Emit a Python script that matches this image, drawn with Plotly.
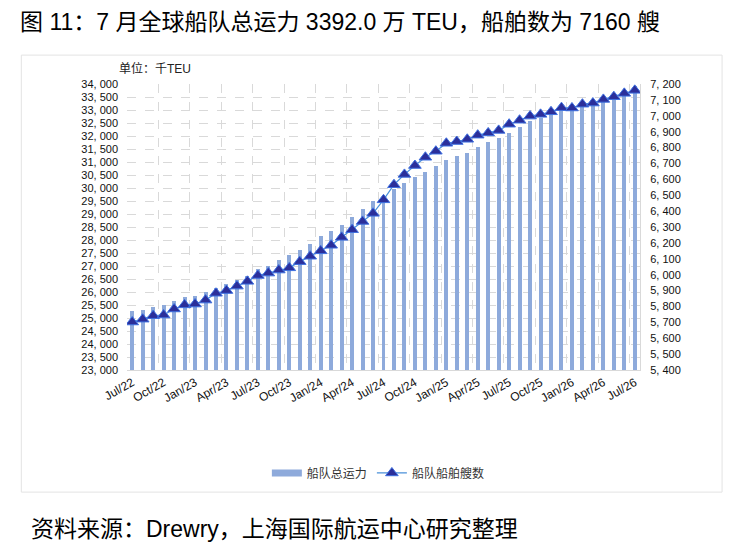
import plotly.graph_objects as go

# meses jul/22 - jul/26
meses = []
for a in range(22, 27):
    for m in ["Jan", "Feb", "Mar", "Apr", "May", "Jun", "Jul", "Aug", "Sep", "Oct", "Nov", "Dec"]:
        meses.append(f"{m}/{a}")
meses = meses[meses.index("Jul/22"):meses.index("Jul/26") + 1]

# capacidad total de la flota (miles de TEU)
capacidad = [25280, 25300, 25420, 25500, 25650, 25800, 25835, 25990, 26150, 26300,
             26460, 26620, 26880, 27010, 27220, 27430, 27610, 27860, 28140, 28350,
             28560, 28880, 29180, 29510, 29740, 29960, 30190, 30440, 30610, 30860,
             31080, 31240, 31340, 31580, 31760, 31935, 32130, 32350, 32560, 32700,
             32840, 32970, 33100, 33230, 33360, 33500, 33640, 33780, 33920]

# numero de buques
buques = [5702, 5720, 5742, 5746, 5784, 5810, 5815, 5840, 5883, 5900,
          5928, 5958, 5995, 6010, 6029, 6043, 6082, 6116, 6150, 6185,
          6235, 6283, 6335, 6386, 6471, 6566, 6631, 6687, 6739, 6777,
          6827, 6838, 6852, 6878, 6892, 6908, 6947, 6972, 6998, 7009,
          7025, 7051, 7049, 7073, 7080, 7103, 7120, 7141, 7160]

ticks_izq = list(range(23000, 34001, 500))
ticks_der = list(range(5400, 7201, 100))

fuente = "Liberation Sans, Noto Sans CJK SC, sans-serif"
gris = "#d9d9d9"
azul_barra = "#8eaadb"

fig = go.Figure()
fig.add_trace(go.Bar(x=meses, y=capacidad, name="船队总运力", showlegend=False,
                     marker=dict(color=azul_barra, line_width=0), width=0.38))
# solo para la leyenda (rectangulo ancho)
fig.add_trace(go.Scatter(x=[None], y=[None], name="船队总运力", mode="lines",
                         line=dict(color=azul_barra, width=7)))
fig.add_trace(go.Scatter(x=meses, y=buques, name="船队船舶艘数", yaxis="y2",
                         mode="lines+markers",
                         line=dict(color="#4a90d9", width=1.2),
                         marker=dict(symbol="triangle-up", size=11, color="#2b2f9a",
                                     line=dict(color="#3d6fe0", width=1))))

fig.update_layout(
    width=735, height=545,
    margin=dict(l=119, r=103, t=76, b=183),
    paper_bgcolor="white", plot_bgcolor="white",
    font=dict(family=fuente, size=11, color="#222"),
    bargap=0,
    showlegend=True,
    legend=dict(orientation="h", x=0.49, xanchor="center", y=-0.36, yanchor="middle",
                font=dict(size=12, color="#333")),
    xaxis=dict(type="category", tickson="boundaries", tickmode="linear", tick0=0, dtick=3,
               tickangle=-30, showgrid=True, gridcolor=gris, griddash="dash",
               showline=True, linecolor=gris, ticks="", tickfont=dict(size=12, color="#111"),
               range=[-0.5, len(meses) - 0.5]),
    yaxis=dict(range=[23000, 34000], tickvals=ticks_izq,
               ticktext=[f"{v:,}".replace(",", ", ") for v in ticks_izq],
               showgrid=True, gridcolor=gris, griddash="dash", zeroline=False,
               tickfont=dict(size=11, color="#111"), ticks="", ticklabelstandoff=8),
    yaxis2=dict(range=[5400, 7200], tickvals=ticks_der,
                ticktext=[f"{v:,}".replace(",", ", ") for v in ticks_der],
                overlaying="y", side="right", showgrid=False, zeroline=False,
                showline=True, linecolor=gris, ticklabelstandoff=7,
                tickfont=dict(size=11, color="#111"), ticks=""),
)

# marco y textos
fig.add_shape(type="rect", xref="paper", yref="paper", x0=-0.206, x1=1.160, y0=-0.427, y1=1.101,
              line=dict(color="#e3e3e3", width=1), layer="below")
fig.add_annotation(text="图 11：7 月全球船队总运力 3392.0 万 TEU，船舶数为 7160 艘",
                   xref="paper", yref="paper", x=-0.212, y=1.217, xanchor="left", yanchor="middle",
                   showarrow=False, font=dict(size=23, color="#000"))
fig.add_annotation(text="单位：千TEU", xref="paper", yref="paper", x=-0.02, y=1.055,
                   xanchor="left", yanchor="middle", showarrow=False,
                   font=dict(size=12, color="#222"))
fig.add_annotation(text="资料来源：Drewry，上海国际航运中心研究整理",
                   xref="paper", yref="paper", x=-0.192, y=-0.556, xanchor="left", yanchor="middle",
                   showarrow=False, font=dict(size=23, color="#000"))

fig.write_html("out.html")
